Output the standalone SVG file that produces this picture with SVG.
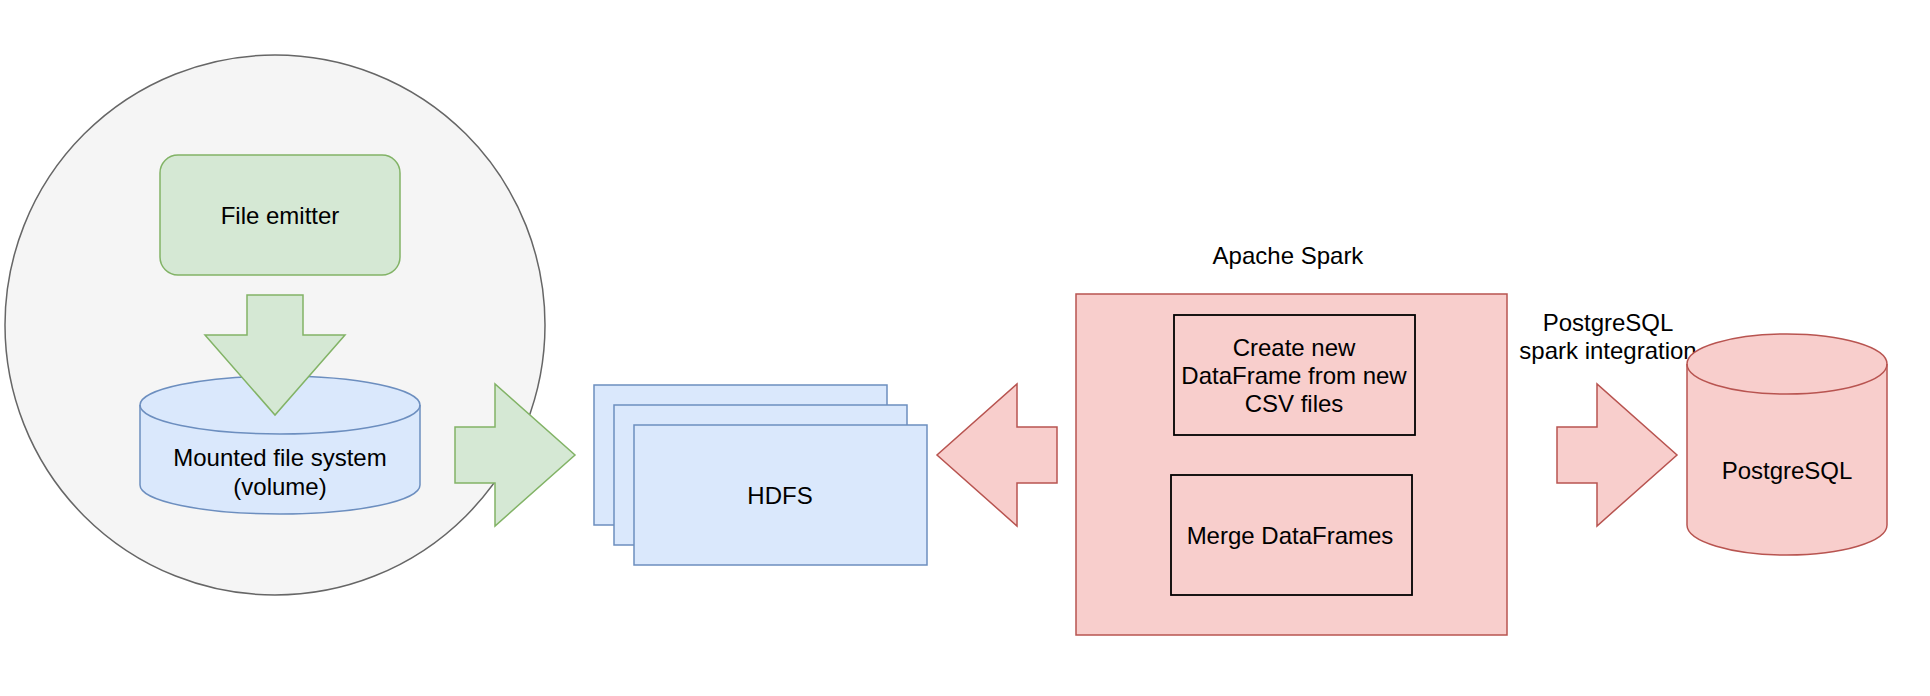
<svg xmlns="http://www.w3.org/2000/svg" width="1930" height="696" viewBox="0 0 1930 696">
<style>
text{font-family:"Liberation Sans",Arial,sans-serif;font-size:24px;fill:#000;text-anchor:middle;dominant-baseline:central}
.green{fill:#d5e8d4;stroke:#82b366;stroke-width:1.5}
.blue{fill:#dae8fc;stroke:#6c8ebf;stroke-width:1.5}
.red{fill:#f8cecc;stroke:#b85450;stroke-width:1.5}
.inner{fill:none;stroke:#000;stroke-width:1.8}
</style>
<rect width="1930" height="696" fill="#fff"/>
<g id="container">
<circle cx="275" cy="325" r="270" fill="#f5f5f5" stroke="#666666" stroke-width="1.5"/>
</g>
<g id="file-emitter">
<rect class="green" x="160" y="155" width="240" height="120" rx="18" ry="18"/>
<text x="280" y="215">File emitter</text>
</g>
<g id="mounted-volume">
<path class="blue" d="M140,405 A140,29 0 0 1 420,405 L420,485 A140,29 0 0 1 140,485 Z"/>
<path fill="none" stroke="#6c8ebf" stroke-width="1.5" d="M140,405 A140,29 0 0 0 420,405"/>
<text x="280" y="457">Mounted file system</text>
<text x="280" y="486">(volume)</text>
</g>
<g id="hdfs">
<rect class="blue" x="594" y="385" width="293" height="140"/>
<rect class="blue" x="614" y="405" width="293" height="140"/>
<rect class="blue" x="634" y="425" width="293" height="140"/>
<text x="780" y="495">HDFS</text>
</g>
<g id="spark-label">
<text x="1288" y="255">Apache Spark</text>
</g>
<g id="apache-spark">
<rect class="red" x="1076" y="294" width="431" height="341"/>
</g>
<g id="create-dataframe">
<rect class="inner" x="1174" y="315" width="241" height="120"/>
<text x="1294" y="347">Create new</text>
<text x="1294" y="375">DataFrame from new</text>
<text x="1294" y="403">CSV files</text>
</g>
<g id="merge-dataframes">
<rect class="inner" x="1171" y="475" width="241" height="120"/>
<text x="1290" y="535">Merge DataFrames</text>
</g>
<g id="integration-label">
<text x="1608" y="322">PostgreSQL</text>
<text x="1608" y="350">spark integration</text>
</g>
<g id="postgresql">
<path class="red" d="M1687,364 A100,30 0 0 1 1887,364 L1887,525 A100,30 0 0 1 1687,525 Z"/>
<path fill="none" stroke="#b85450" stroke-width="1.5" d="M1687,364 A100,30 0 0 0 1887,364"/>
<text x="1787" y="470">PostgreSQL</text>
</g>
<g id="connectors">
<path class="green" d="M247,295 L303,295 L303,335 L345,335 L275,415 L205,335 L247,335 Z"/>
<path class="green" d="M455,427 L495,427 L495,384 L575,455 L495,526 L495,483 L455,483 Z"/>
<path class="red" d="M1057,427 L1017,427 L1017,384 L937,455 L1017,526 L1017,483 L1057,483 Z"/>
<path class="red" d="M1557,427 L1597,427 L1597,384 L1677,455 L1597,526 L1597,483 L1557,483 Z"/>
</g>
</svg>
